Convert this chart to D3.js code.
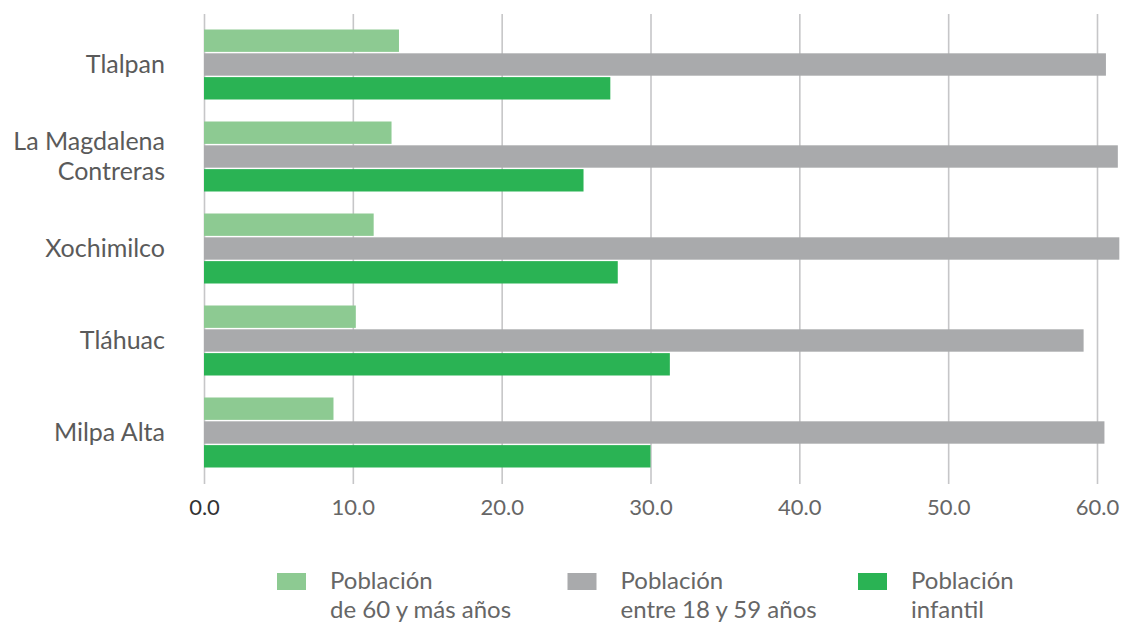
<!DOCTYPE html>
<meta charset="utf-8">
<script src="https://d3js.org/d3.v7.min.js"></script>
<body style="margin:0;background:#fff">
<svg width="1122" height="624"></svg>
<script>
var categories = ['Tlalpan', 'La Magdalena Contreras', 'Xochimilco', 'Tláhuac', 'Milpa Alta'];
var labelLines = [['Tlalpan'], ['La Magdalena', 'Contreras'], ['Xochimilco'], ['Tláhuac'], ['Milpa Alta']];
var series = ['mayores', 'adultos', 'infantil'];
var seriesNames = [['Población', 'de 60 y más años'], ['Población', 'entre 18 y 59 años'], ['Población', 'infantil']];
var mayores = [13.1, 12.6, 11.4, 10.2, 8.7];
var adultos = [60.6, 61.4, 61.5, 59.1, 60.5];
var infantil = [27.3, 25.5, 27.8, 31.3, 30.0];
var ticks = [0, 10, 20, 30, 40, 50, 60];

var colors = { mayores: '#8dca92', adultos: '#a9aaac', infantil: '#2ab354' };
var values = { mayores: mayores, adultos: adultos, infantil: infantil };

var svg = d3.select('svg');
var font = 'Lato, sans-serif';

var x = d3.scaleLinear().domain([0, 60]).range([204, 1097]);
var y = d3.scalePoint().domain(categories).range([64.5, 432.5]);
var sub = d3.scaleBand().domain(series).range([-35, 35]).paddingInner(0.06);

// gridlines + tick labels
var axis = svg.append('g')
    .attr('transform', 'translate(0,484)')
    .call(d3.axisBottom(x).tickValues(ticks).tickSize(-470).tickFormat(d3.format('.1f')));
axis.select('.domain').remove();
axis.selectAll('.tick line').attr('stroke', '#c6c6c8').attr('stroke-width', 1.6);
axis.selectAll('.tick text')
    .attr('y', 31)
    .attr('dy', 0)
    .attr('font-family', font)
    .attr('font-size', 22)
    .attr('fill', function (d) { return d === 0 ? '#333' : '#666'; });

// bars
var groups = svg.append('g').selectAll('g')
    .data(categories)
    .join('g')
    .attr('transform', function (d) { return 'translate(0,' + y(d) + ')'; });

groups.selectAll('rect')
    .data(function (d, i) { return series.map(function (s) { return { s: s, v: values[s][i] }; }); })
    .join('rect')
    .attr('x', x(0))
    .attr('y', function (d) { return sub(d.s); })
    .attr('height', sub.bandwidth())
    .attr('width', function (d) { return x(d.v) - x(0); })
    .attr('fill', function (d) { return colors[d.s]; });

// category labels
groups.append('text')
    .attr('text-anchor', 'end')
    .attr('font-family', font)
    .attr('font-size', 25)
    .attr('fill', '#5a5a5a')
    .each(function (d, i) {
        var lines = labelLines[i];
        var t = d3.select(this);
        lines.forEach(function (l, k) {
            t.append('tspan')
                .attr('x', 165)
                .attr('y', (k - (lines.length - 1) / 2) * 30 + 8)
                .text(l);
        });
    });

// legend
var legendX = d3.scalePoint().domain(series).range([277, 858]);
var legend = svg.append('g').selectAll('g')
    .data(series)
    .join('g')
    .attr('transform', function (d) { return 'translate(' + legendX(d) + ',0)'; });

legend.append('rect')
    .attr('y', 573)
    .attr('width', 29)
    .attr('height', 17)
    .attr('fill', function (d) { return colors[d]; });

legend.append('text')
    .attr('font-family', font)
    .attr('font-size', 24)
    .attr('fill', '#666')
    .each(function (d, i) {
        var t = d3.select(this);
        seriesNames[i].forEach(function (l, k) {
            t.append('tspan').attr('x', 53).attr('y', 589 + k * 29).text(l);
        });
    });
</script>
</body>
